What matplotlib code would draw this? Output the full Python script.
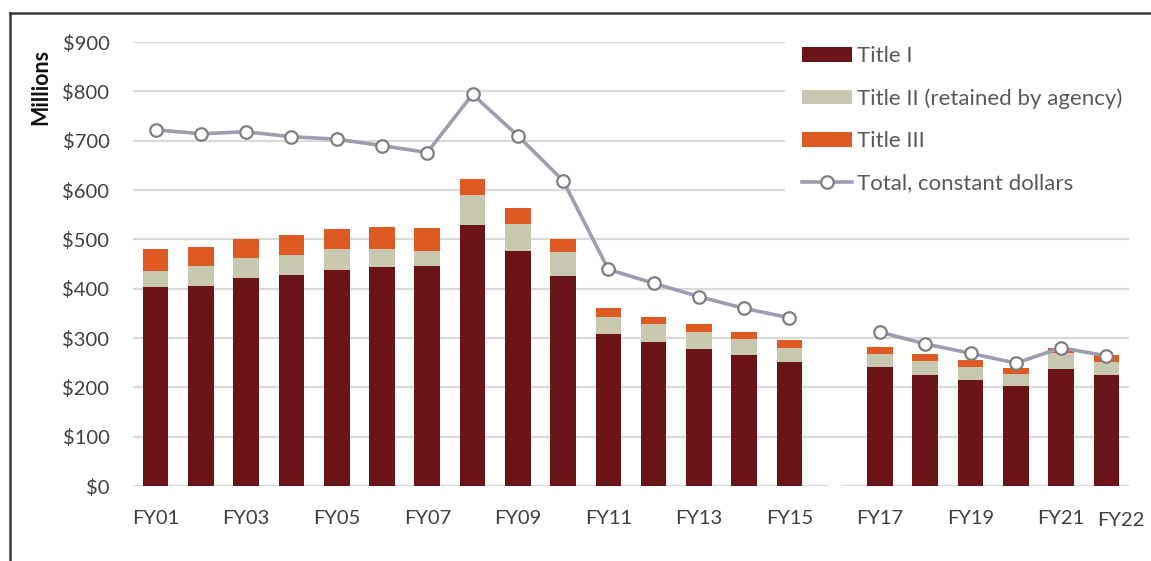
import numpy as np
import matplotlib
matplotlib.use("Agg")
import matplotlib.pyplot as plt
import matplotlib.transforms as mtransforms
from matplotlib.lines import Line2D

plt.rcParams['font.family'] = ['Lato', 'DejaVu Sans']

categories = ["FY01", "FY02", "FY03", "FY04", "FY05", "FY06", "FY07", "FY08",
              "FY09", "FY10", "FY11", "FY12", "FY13", "FY14", "FY15", "FY16",
              "FY17", "FY18", "FY19", "FY20", "FY21", "FY22"]
nan = np.nan
title1 = [403, 406, 421, 427, 437, 443, 445, 529, 476, 426, 309, 291, 278, 265, 251, nan,
          241, 226, 215, 202, 238, 226]
total2 = [436, 445, 463, 468, 480, 480, 476, 589, 531, 474, 343, 328, 312, 297, 280, nan,
          268, 254, 241, 228, 269, 252]
total3 = [481, 484, 500, 508, 520, 526, 522, 623, 563, 500, 361, 343, 328, 312, 296, nan,
          281, 268, 255, 239, 280, 265]
constant_total = [722, 714, 718, 708, 703, 690, 676, 794, 710, 619, 439, 411, 384, 360, 341, nan,
                  312, 288, 269, 249, 280, 264]
shown_ticks = ["FY01", "FY03", "FY05", "FY07", "FY09", "FY11", "FY13", "FY15",
               "FY17", "FY19", "FY21", "FY22"]
y_ticks = [0, 100, 200, 300, 400, 500, 600, 700, 800, 900]

title1 = np.array(title1, dtype=float)
title2 = np.array(total2, dtype=float) - title1
title3 = np.array(total3, dtype=float) - np.array(total2, dtype=float)

C1 = "#6A1418"
C2 = "#C8C7AF"
C3 = "#DF5A23"
CL = "#9D9DB2"

W, H = 1151, 561
fig = plt.figure(figsize=(W / 100, H / 100), dpi=100)
ax = fig.add_axes([133 / W, 1 - 486 / H, (1129 - 133) / W, (486 - 42) / H])

x = np.arange(len(categories))
bw = 0.565
b1 = ax.bar(x, title1, bw, color=C1, label="Title I", zorder=3)
b2 = ax.bar(x, title2, bw, bottom=title1, color=C2, label="Title II (retained by agency)", zorder=3)
b3 = ax.bar(x, title3, bw, bottom=title1 + title2, color=C3, label="Title III", zorder=3)
ln, = ax.plot(x, constant_total, color=CL, lw=2.6, marker="o", ms=9, mfc="white",
              mec="#7F7F7F", mew=1.6, zorder=4, clip_on=False, label="Total, constant dollars")

ax.set_xlim(-0.5, len(categories) - 0.5)
ax.set_ylim(0, 900)
ax.set_yticks(y_ticks)
ax.set_yticklabels(["$%d" % v for v in y_ticks])
ax.yaxis.grid(True, color="#D9D9D9", lw=1.6, zorder=0)
ax.set_axisbelow(True)
for s in ax.spines.values():
    s.set_visible(False)

# gap in the baseline at the missing FY16
i16 = categories.index("FY16")
ax.hlines(0, i16 - 0.13, i16 + 0.13, color="white", lw=3, zorder=1)

pos = [categories.index(c) for c in shown_ticks]
ax.set_xticks(pos)
ax.set_xticklabels(shown_ticks)
ax.tick_params(axis="both", length=0, labelsize=14.5, colors="#404040")
ax.tick_params(axis="y", pad=17)
ax.tick_params(axis="x", pad=17)
lab = ax.get_xticklabels()[-1]
lab.set_transform(lab.get_transform() + mtransforms.ScaledTranslation(14 / 100, -2 / 100, fig.dpi_scale_trans))

fig.text(41 / W, 1 - 87 / H, "Millions", rotation=90, fontsize=15.5, fontweight="bold",
         ha="center", va="center", color="#111111")

leg = ax.legend([b1, b2, b3, ln],
                ["Title I", "Title II (retained by agency)", "Title III", "Total, constant dollars"],
                loc="upper left", bbox_to_anchor=(785 / W, 1 - 29 / H),
                bbox_transform=fig.transFigure, fontsize=16, frameon=True,
                facecolor="white", edgecolor="none", framealpha=1, borderpad=0.78,
                handlelength=2.25, handleheight=0.6, handletextpad=0.22,
                labelspacing=1.0, borderaxespad=0, numpoints=1)
for t in leg.get_texts():
    t.set_color("#595959")
leg.set_zorder(5)

# frame lines of the original picture
fig.add_artist(Line2D([10 / W, 1], [1 - 13 / H, 1 - 13 / H], color="#3A3A3A", lw=1.8,
                      transform=fig.transFigure))
fig.add_artist(Line2D([10 / W, 10 / W], [0, 1 - 13 / H], color="#3A3A3A", lw=1.8,
                      transform=fig.transFigure))

fig.savefig("out.png", dpi=100)
